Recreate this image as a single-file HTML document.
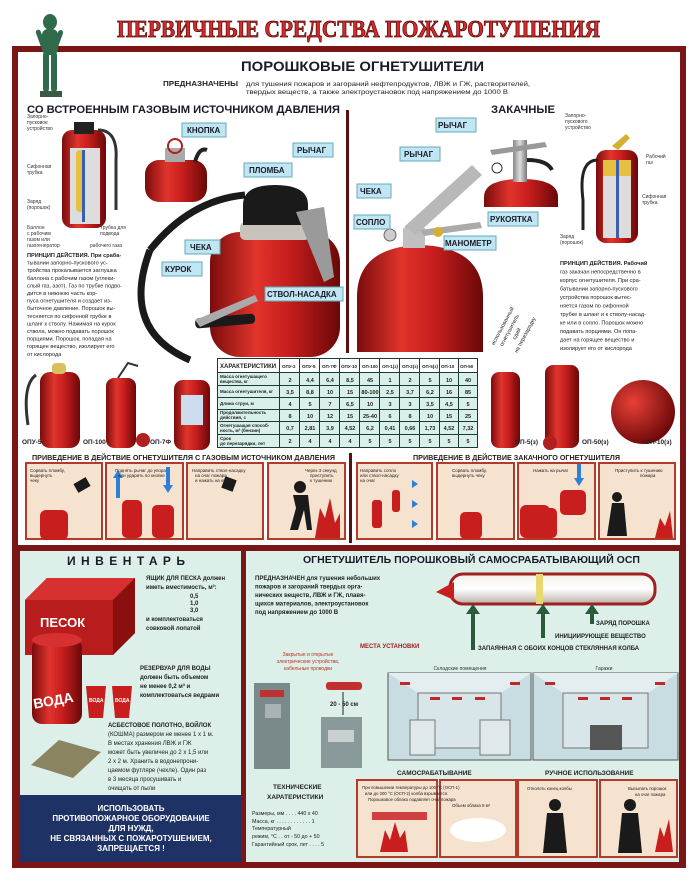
<!DOCTYPE html>
<html><head><meta charset="utf-8"><style>
html,body{margin:0;padding:0;background:#fff}
svg{display:block}
text{font-family:"Liberation Sans","DejaVu Sans",sans-serif}
</style></head><body>
<svg width="700" height="886" viewBox="0 0 700 886" xmlns="http://www.w3.org/2000/svg">
<defs>
<linearGradient id="red" x1="0" x2="1" y1="0" y2="0">
<stop offset="0" stop-color="#7a0c0c"/><stop offset="0.35" stop-color="#e0342c"/><stop offset="0.6" stop-color="#c81e1e"/><stop offset="1" stop-color="#6a0808"/></linearGradient>
<linearGradient id="tube" x1="0" x2="0" y1="0" y2="1">
<stop offset="0" stop-color="#f4f0ea"/><stop offset="0.5" stop-color="#ffffff"/><stop offset="1" stop-color="#b8b0a8"/></linearGradient>
<linearGradient id="gray" x1="0" x2="1"><stop offset="0" stop-color="#888"/><stop offset="0.5" stop-color="#ddd"/><stop offset="1" stop-color="#777"/></linearGradient>
<radialGradient id="sph" cx="0.35" cy="0.35" r="0.7"><stop offset="0" stop-color="#e84038"/><stop offset="1" stop-color="#6a0808"/></radialGradient>
</defs>
<rect width="700" height="886" fill="#fff"/>
<text x="117" y="37" textLength="483" lengthAdjust="spacingAndGlyphs" style="font-family:'Liberation Serif',serif" font-weight="bold" font-size="24" fill="#d42a2a" stroke="#5a0a0a" stroke-width="0.8">ПЕРВИЧНЫЕ СРЕДСТВА ПОЖАРОТУШЕНИЯ</text>
<rect x="12" y="46" width="674" height="822" fill="#7a1616"/>
<rect x="18" y="52" width="662" height="493" fill="#fff"/>
<rect x="20" y="551" width="221" height="311" fill="#dcefe9"/>
<rect x="246" y="551" width="433" height="311" fill="#dcefe9"/>
<g fill="#2f6a4a">
<ellipse cx="50" cy="22" rx="7" ry="8"/>
<rect x="42" y="29" width="16" height="26" rx="6"/>
<rect x="43" y="52" width="6" height="40" rx="3"/>
<rect x="51" y="52" width="6" height="40" rx="3"/>
<rect x="35" y="30" width="5" height="20" rx="2.5" transform="rotate(-20 37 30)"/>
<rect x="59" y="30" width="5" height="18" rx="2.5" transform="rotate(20 61 30)"/>
<rect x="40" y="91" width="22" height="6" fill="#3a5a44"/>
</g>
<text x="241" y="71" textLength="243" lengthAdjust="spacingAndGlyphs" font-weight="bold" font-size="14" fill="#1a1a2a">ПОРОШКОВЫЕ ОГНЕТУШИТЕЛИ</text>
<text x="163" y="86" textLength="75" lengthAdjust="spacingAndGlyphs" font-weight="bold" font-size="7" fill="#222">ПРЕДНАЗНАЧЕНЫ</text>
<text x="246" y="86" textLength="284" lengthAdjust="spacingAndGlyphs" font-size="6.5" fill="#222">для тушения пожаров и загораний нефтепродуктов, ЛВЖ и ГЖ, растворителей,</text>
<text x="246" y="94" textLength="262" lengthAdjust="spacingAndGlyphs" font-size="6.5" fill="#222">твердых веществ, а также электроустановок под напряжением до 1000 В</text>
<text x="27" y="113" textLength="313" lengthAdjust="spacingAndGlyphs" font-weight="bold" font-size="11" fill="#1a1a2a">СО ВСТРОЕННЫМ ГАЗОВЫМ ИСТОЧНИКОМ ДАВЛЕНИЯ</text>
<text x="491" y="113" textLength="64" lengthAdjust="spacingAndGlyphs" font-weight="bold" font-size="11" fill="#1a1a2a">ЗАКАЧНЫЕ</text>
<rect x="346" y="110" width="3" height="243" fill="#5a1010"/>
<rect x="62" y="130" width="44" height="98" rx="10" fill="url(#red)"/>
<rect x="70" y="148" width="30" height="76" fill="#ddd"/>
<rect x="76" y="150" width="8" height="62" rx="4" fill="#e8c040"/>
<rect x="82" y="150" width="3" height="72" fill="#3a5fb0"/>
<rect x="74" y="122" width="20" height="12" fill="#222"/>
<path d="M98 130 q20 0 18 30 v50" stroke="#333" stroke-width="3" fill="none"/>
<g font-size="5" fill="#333">
<text x="27" y="118">Запорно-</text><text x="27" y="124">пусковое</text><text x="27" y="130">устройство</text>
<text x="27" y="168">Сифонная</text><text x="27" y="174">трубка</text>
<text x="27" y="203">Заряд</text><text x="27" y="209">(порошок)</text>
<text x="27" y="229">Баллон</text><text x="27" y="235">с рабочим</text><text x="27" y="241">газом или</text><text x="27" y="247">газогенератор</text>
<text x="100" y="229">Трубка для</text><text x="100" y="235">подвода</text><text x="90" y="247">рабочего газа</text>
</g>
<g font-size="5.6" fill="#222">
<text x="27" y="257" font-weight="bold">ПРИНЦИП ДЕЙСТВИЯ. При сраба-</text>
<text x="27" y="264.6">тывании запорно-пускового ус-</text>
<text x="27" y="272.2">тройства прокалывается заглушка</text>
<text x="27" y="279.8">баллона с рабочим газом (углеки-</text>
<text x="27" y="287.4">слый газ, азот). Газ по трубке подво-</text>
<text x="27" y="295">дится в нижнюю часть кор-</text>
<text x="27" y="302.6">пуса огнетушителя и создает из-</text>
<text x="27" y="310.2">быточное давление. Порошок вы-</text>
<text x="27" y="317.8">тесняется по сифонной трубке в</text>
<text x="27" y="325.4">шланг к стволу. Нажимая на курок</text>
<text x="27" y="333">ствола, можно подавать порошок</text>
<text x="27" y="340.6">порциями. Порошок, попадая на</text>
<text x="27" y="348.2">горящее вещество, изолирует его</text>
<text x="27" y="355.8">от кислорода</text>
</g>
<rect x="145" y="160" width="62" height="42" rx="14" fill="url(#red)"/>
<rect x="165" y="148" width="20" height="14" fill="#aaa"/>
<circle cx="175" cy="146" r="7" fill="none" stroke="#b02020" stroke-width="2"/>
<path d="M195 162 q4 -15 12 -12" stroke="#222" stroke-width="4" fill="none"/>
<path d="M150 250 q-30 80 40 110" stroke="#1a1a1a" stroke-width="7" fill="none"/>
<path d="M150 250 q40 -50 95 -55" stroke="#1a1a1a" stroke-width="7" fill="none"/>
<rect x="210" y="232" width="130" height="125" rx="30" fill="url(#red)"/>
<rect x="240" y="222" width="70" height="18" rx="5" fill="#c8c4bc"/>
<path d="M243 225 v-20 q0 -20 32 -20 q33 0 33 20 v20 z" fill="#1a1a1a"/>
<path d="M296 212 l28 -5 l10 70 l-10 5 z" fill="#9a9a9a"/>
<rect x="195" y="316" width="60" height="10" rx="4" fill="#1a1a1a" transform="rotate(-5 225 320)"/>
<path d="M195 320 l60 -25 l3 6 l-58 26z" fill="#aaa"/>
<path d="M357 352 v-55 q0 -50 63 -52 q63 2 63 52 v55 z" fill="url(#red)"/>
<rect x="403" y="228" width="22" height="20" fill="#c0c0c0"/>
<path d="M404 227 l68 -62 l10 10 l-66 60 z" fill="#b8b8b8"/>
<path d="M420 230 l60 -8 l2 6 l-58 8 z" fill="#aaa"/>
<circle cx="390" cy="235" r="6" fill="#ccc" stroke="#666"/>
<circle cx="438" cy="232" r="5" fill="#d4b030"/>
<path d="M484 207 v-10 q0 -18 37 -18 q37 0 37 18 v10z" fill="url(#red)"/>
<rect x="513" y="140" width="14" height="42" fill="url(#gray)"/>
<path d="M490 150 l55 -8 l2 5 l-55 8z" fill="#999"/>
<path d="M527 160 q20 0 25 10" stroke="#222" stroke-width="4" fill="none"/>
<circle cx="497" cy="168" r="5" fill="#fff" stroke="#333"/>
<rect x="596" y="150" width="42" height="93" rx="10" fill="url(#red)"/>
<rect x="603" y="160" width="28" height="16" fill="#e8c040"/>
<rect x="603" y="176" width="28" height="62" fill="#ddd"/>
<rect x="616" y="160" width="3" height="78" fill="#3a5fb0"/>
<path d="M612 146 l14 -12 l4 4 l-12 12z" fill="#d4b030"/>
<path d="M598 160 q-20 0 -15 40 v30" stroke="#222" stroke-width="3" fill="none"/>
<g font-size="5" fill="#333">
<text x="565" y="117">Запорно-</text><text x="565" y="123">пускового</text><text x="565" y="129">устройство</text>
<text x="646" y="158">Рабочий</text><text x="646" y="164">газ</text>
<text x="642" y="198">Сифонная</text><text x="642" y="204">трубка</text>
<text x="560" y="238">Заряд</text><text x="560" y="244">(порошок)</text>
</g>
<g font-size="5.6" fill="#222">
<text x="560" y="265" font-weight="bold">ПРИНЦИП ДЕЙСТВИЯ. Рабочий</text>
<text x="560" y="273.5">газ закачан непосредственно в</text>
<text x="560" y="282">корпус огнетушителя. При сра-</text>
<text x="560" y="290.5">батывании запорно-пускового</text>
<text x="560" y="299">устройства порошок вытес-</text>
<text x="560" y="307.5">няется газом по сифонной</text>
<text x="560" y="316">трубке в шланг и к стволу-насад-</text>
<text x="560" y="324.5">ке или в сопло. Порошок можно</text>
<text x="560" y="333">подавать порциями. Он попа-</text>
<text x="560" y="341.5">дает на горящее вещество и</text>
<text x="560" y="350">изолирует его от кислорода</text>
</g>
<g font-size="5.5" fill="#222" transform="rotate(-62 510 320)"><text x="480" y="318">использованный</text><text x="483" y="326">огнетушитель</text><text x="495" y="334">сдай</text><text x="484" y="342">на перезарядку</text></g>
<g font-weight="bold" font-size="8" fill="#1a1a2a">
<rect x="182" y="123" width="44" height="14" fill="#bfe6f2" stroke="#6ab"/><text x="187" y="133">КНОПКА</text>
<rect x="293" y="143" width="40" height="14" fill="#bfe6f2" stroke="#6ab"/><text x="297" y="153">РЫЧАГ</text>
<rect x="244" y="163" width="48" height="14" fill="#bfe6f2" stroke="#6ab"/><text x="249" y="173">ПЛОМБА</text>
<rect x="185" y="240" width="35" height="14" fill="#bfe6f2" stroke="#6ab"/><text x="190" y="250">ЧЕКА</text>
<rect x="162" y="262" width="40" height="14" fill="#bfe6f2" stroke="#6ab"/><text x="165" y="272">КУРОК</text>
<rect x="265" y="287" width="78" height="14" fill="#bfe6f2" stroke="#6ab"/><text x="267" y="297">СТВОЛ-НАСАДКА</text>
<rect x="436" y="118" width="40" height="14" fill="#bfe6f2" stroke="#6ab"/><text x="438" y="128">РЫЧАГ</text>
<rect x="400" y="147" width="40" height="14" fill="#bfe6f2" stroke="#6ab"/><text x="404" y="157">РЫЧАГ</text>
<rect x="357" y="184" width="34" height="14" fill="#bfe6f2" stroke="#6ab"/><text x="360" y="194">ЧЕКА</text>
<rect x="354" y="215" width="36" height="14" fill="#bfe6f2" stroke="#6ab"/><text x="356" y="225">СОПЛО</text>
<rect x="488" y="212" width="50" height="14" fill="#bfe6f2" stroke="#6ab"/><text x="490" y="222">РУКОЯТКА</text>
<rect x="444" y="236" width="52" height="14" fill="#bfe6f2" stroke="#6ab"/><text x="445" y="246">МАНОМЕТР</text>
</g>
<path d="M36 375 q-14 10 -8 50" stroke="#333" stroke-width="3" fill="none"/>
<rect x="40" y="372" width="40" height="76" rx="10" fill="url(#red)"/><rect x="52" y="363" width="14" height="11" rx="4" fill="#d8c060"/>
<rect x="106" y="378" width="30" height="70" rx="8" fill="url(#red)"/><circle cx="143" cy="440" r="7" fill="#b02020"/>
<path d="M118 378 l10 -15 l10 3" stroke="#333" stroke-width="2" fill="none"/>
<rect x="174" y="380" width="36" height="70" rx="9" fill="url(#red)"/><rect x="181" y="395" width="22" height="30" fill="#cde"/>
<rect x="491" y="372" width="29" height="76" rx="8" fill="url(#red)"/>
<rect x="545" y="365" width="34" height="83" rx="8" fill="url(#red)"/><circle cx="550" cy="443" r="7" fill="#b02020"/>
<circle cx="643" cy="412" r="32" fill="url(#sph)"/>
<g font-size="6.5" font-weight="bold" fill="#222">
<text x="22" y="444">ОПУ-5</text><text x="83" y="444">ОП-100</text><text x="150" y="444">ОП-7Ф</text>
<text x="515" y="444">ОП-5(з)</text><text x="582" y="444">ОП-50(з)</text><text x="645" y="444">ОП-10(з)</text>
</g>
<g>
<rect x="217" y="358" width="261" height="90" fill="#1d3a3a"/>
<rect x="218" y="359" width="61" height="13" fill="#fff"/>
<g fill="#d9efe9">
<rect x="218" y="373" width="61" height="12"/><rect x="218" y="386" width="61" height="11"/><rect x="218" y="398" width="61" height="11"/><rect x="218" y="410" width="61" height="11"/><rect x="218" y="422" width="61" height="12"/><rect x="218" y="435" width="61" height="12"/>
</g>
<g fill="#fff">
<rect x="280" y="359" width="19" height="13"/><rect x="300" y="359" width="19" height="13"/><rect x="320" y="359" width="19" height="13"/><rect x="340" y="359" width="19" height="13"/><rect x="360" y="359" width="19" height="13"/><rect x="380" y="359" width="19" height="13"/><rect x="400" y="359" width="19" height="13"/><rect x="420" y="359" width="19" height="13"/><rect x="440" y="359" width="18" height="13"/><rect x="459" y="359" width="18" height="13"/>
</g>
<rect x="280" y="373" width="197" height="74" fill="#d9efe9"/>
<g stroke="#1d3a3a" stroke-width="1">
<line x1="299.5" y1="373" x2="299.5" y2="448"/><line x1="319.5" y1="373" x2="319.5" y2="448"/><line x1="339.5" y1="373" x2="339.5" y2="448"/><line x1="359.5" y1="373" x2="359.5" y2="448"/><line x1="379.5" y1="373" x2="379.5" y2="448"/><line x1="399.5" y1="373" x2="399.5" y2="448"/><line x1="419.5" y1="373" x2="419.5" y2="448"/><line x1="439.5" y1="373" x2="439.5" y2="448"/><line x1="458.5" y1="373" x2="458.5" y2="448"/>
<line x1="280" y1="385.5" x2="478" y2="385.5"/><line x1="280" y1="397.5" x2="478" y2="397.5"/><line x1="280" y1="409.5" x2="478" y2="409.5"/><line x1="280" y1="421.5" x2="478" y2="421.5"/><line x1="280" y1="434.5" x2="478" y2="434.5"/>
</g>
<g font-size="4.5" fill="#222" font-weight="bold">
<text x="220" y="368" font-size="6">ХАРАКТЕРИСТИКИ</text>
<text x="282" y="368">ОПУ-2</text><text x="302" y="368">ОПУ-5</text><text x="322" y="368">ОП-7Ф</text><text x="341" y="368">ОПУ-10</text><text x="362" y="368">ОП-100</text><text x="382" y="368">ОП-1(з)</text><text x="402" y="368">ОП-2(з)</text><text x="422" y="368">ОП-5(з)</text><text x="441" y="368">ОП-10</text><text x="460" y="368">ОП-50</text>
<text x="220" y="378">Масса огнетушащего</text><text x="220" y="383">вещества, кг</text>
<text x="220" y="393">Масса огнетушителя, кг</text>
<text x="220" y="405">Длина струи, м</text>
<text x="220" y="414">Продолжительность</text><text x="220" y="419">действия, с</text>
<text x="220" y="427">Огнетушащая способ-</text><text x="220" y="432">ность, м² (бензин)</text>
<text x="220" y="440">Срок</text><text x="220" y="445">до перезарядки, лет</text>
</g>
<g font-size="5.5" fill="#222" font-weight="bold" text-anchor="middle">
<text x="290" y="382">2</text><text x="310" y="382">4,4</text><text x="330" y="382">6,4</text><text x="350" y="382">8,5</text><text x="370" y="382">45</text><text x="390" y="382">1</text><text x="410" y="382">2</text><text x="430" y="382">5</text><text x="449" y="382">10</text><text x="468" y="382">40</text>
<text x="290" y="394">3,5</text><text x="310" y="394">8,8</text><text x="330" y="394">10</text><text x="350" y="394">15</text><text x="370" y="394">80-100</text><text x="390" y="394">2,5</text><text x="410" y="394">3,7</text><text x="430" y="394">6,2</text><text x="449" y="394">16</text><text x="468" y="394">85</text>
<text x="290" y="406">4</text><text x="310" y="406">5</text><text x="330" y="406">7</text><text x="350" y="406">6,5</text><text x="370" y="406">10</text><text x="390" y="406">3</text><text x="410" y="406">3</text><text x="430" y="406">3,5</text><text x="449" y="406">4,5</text><text x="468" y="406">5</text>
<text x="290" y="418">8</text><text x="310" y="418">10</text><text x="330" y="418">12</text><text x="350" y="418">15</text><text x="370" y="418">25-40</text><text x="390" y="418">6</text><text x="410" y="418">8</text><text x="430" y="418">10</text><text x="449" y="418">15</text><text x="468" y="418">25</text>
<text x="290" y="430">0,7</text><text x="310" y="430">2,81</text><text x="330" y="430">3,9</text><text x="350" y="430">4,52</text><text x="370" y="430">6,2</text><text x="390" y="430">0,41</text><text x="410" y="430">0,66</text><text x="430" y="430">1,73</text><text x="449" y="430">4,52</text><text x="468" y="430">7,32</text>
<text x="290" y="443">2</text><text x="310" y="443">4</text><text x="330" y="443">4</text><text x="350" y="443">4</text><text x="370" y="443">5</text><text x="390" y="443">5</text><text x="410" y="443">5</text><text x="430" y="443">5</text><text x="449" y="443">5</text><text x="468" y="443">5</text>
</g>
</g>
<text x="32" y="460" textLength="303" lengthAdjust="spacingAndGlyphs" font-size="7" font-weight="bold" fill="#222">ПРИВЕДЕНИЕ В ДЕЙСТВИЕ ОГНЕТУШИТЕЛЯ С ГАЗОВЫМ ИСТОЧНИКОМ ДАВЛЕНИЯ</text>
<text x="413" y="460" textLength="207" lengthAdjust="spacingAndGlyphs" font-size="7" font-weight="bold" fill="#222">ПРИВЕДЕНИЕ В ДЕЙСТВИЕ ЗАКАЧНОГО ОГНЕТУШИТЕЛЯ</text>
<rect x="349" y="453" width="3" height="90" fill="#5a1010"/>
<g fill="#f5e2cf" stroke="#b43a2a" stroke-width="2">
<rect x="26" y="463" width="76" height="76"/><rect x="106" y="463" width="77" height="76"/><rect x="187" y="463" width="76" height="76"/><rect x="268" y="463" width="77" height="76"/>
<rect x="357" y="463" width="75" height="76"/><rect x="437" y="463" width="77" height="76"/><rect x="518" y="463" width="77" height="76"/><rect x="599" y="463" width="76" height="76"/>
</g>
<g fill="#c81e1e">
<rect x="40" y="510" width="28" height="30" rx="6"/><rect x="122" y="500" width="20" height="38" rx="5"/><rect x="152" y="505" width="22" height="33" rx="5"/>
<rect x="520" y="505" width="30" height="33" rx="6"/><rect x="533" y="508" width="24" height="30" rx="5"/><rect x="560" y="490" width="26" height="25" rx="5"/>
<rect x="460" y="512" width="22" height="27" rx="5"/><rect x="372" y="500" width="10" height="28" rx="3"/><rect x="392" y="490" width="8" height="22" rx="3"/>
<path d="M315 538 l5 -30 l5 10 l5 -20 l5 25 l5 -10 l0 25z"/><path d="M655 538 l5 -20 l5 8 l5 -15 l3 27z"/>
</g>
<g fill="#1a1a1a"><circle cx="300" cy="487" r="6"/><path d="M293 495 h15 l4 35 h-5 l-3 -20 l-6 20 h-8 l6 -22z"/><circle cx="617" cy="497" r="5"/><path d="M612 503 h12 l3 33 h-20z"/><rect x="223" y="478" width="12" height="12" transform="rotate(20 229 484)"/><rect x="75" y="480" width="14" height="10" transform="rotate(-30 82 485)"/></g>
<g fill="#2f7ed8"><path d="M113 478 l5 -8 l5 8 h-3 v20 h-4 v-20z"/><path d="M163 485 l5 8 l5 -8 h-3 v-18 h-4 v18z"/><path d="M574 478 l5 8 l5 -8 h-3 v-14 h-4 v14z"/><path d="M412 480 l6 4 l-6 4z"/><path d="M412 500 l6 4 l-6 4z"/><path d="M412 520 l6 4 l-6 4z"/></g>
<g font-size="4.5" fill="#222">
<text x="30" y="472">Сорвать пломбу,</text><text x="30" y="477">выдернуть</text><text x="30" y="482">чеку</text>
<text x="115" y="472">Поднять рычаг до упора</text><text x="118" y="477">или ударить по кнопке</text>
<text x="192" y="472">Направить ствол-насадку</text><text x="195" y="477">на очаг пожара</text><text x="195" y="482">и нажать на курок</text>
<text x="305" y="472">Через 3 секунд</text><text x="310" y="477">приступить</text><text x="310" y="482">к тушению</text>
<text x="360" y="472">Направить сопло</text><text x="360" y="477">или ствол-насадку</text><text x="360" y="482">на очаг</text>
<text x="452" y="472">Сорвать пломбу,</text><text x="452" y="477">выдернуть чеку</text>
<text x="533" y="472">Нажать на рычаг</text>
<text x="615" y="472">Приступить к тушению</text><text x="640" y="477">пожара</text>
</g>
<text x="67" y="565" textLength="118" lengthAdjust="spacing" font-size="12" font-weight="bold" fill="#1a1a2a">ИНВЕНТАРЬ</text>
<path d="M25 600 l22 -22 h88 v55 l-22 22 h-88z" fill="#b81c1c"/>
<path d="M25 600 l22 -22 h88 l-22 22z" fill="#d63030"/>
<path d="M113 600 l22 -22 v55 l-22 22z" fill="#8a1010"/>
<text x="40" y="627" font-size="13" font-weight="bold" fill="#fff">ПЕСОК</text>
<rect x="32" y="638" width="50" height="86" rx="10" fill="url(#red)"/>
<ellipse cx="57" cy="640" rx="25" ry="7" fill="#d63030"/>
<text x="33" y="705" font-size="14" font-weight="bold" fill="#fff" transform="rotate(-10 55 700)">ВОДА</text>
<path d="M86 686 h20 l-3 32 h-14z" fill="#c81e1e"/><path d="M112 686 h20 l-3 32 h-14z" fill="#c81e1e"/>
<text x="89" y="702" font-size="5" fill="#fff" font-weight="bold">ВОДА</text><text x="115" y="702" font-size="5" fill="#fff" font-weight="bold">ВОДА</text>
<path d="M31 765 l28 -25 l42 12 l-28 26z" fill="#8a8460"/>
<g font-size="6" fill="#222" font-weight="bold">
<text x="146" y="580">ЯЩИК ДЛЯ ПЕСКА должен</text><text x="146" y="589">иметь вместимость, м³:</text>
<text x="190" y="598">0,5</text><text x="190" y="605">1,0</text><text x="190" y="612">3,0</text>
<text x="146" y="621">и комплектоваться</text><text x="146" y="630">совковой лопатой</text>
<text x="140" y="670">РЕЗЕРВУАР ДЛЯ ВОДЫ</text><text x="140" y="679">должен быть объемом</text><text x="140" y="688">не менее 0,2 м³ и</text><text x="140" y="697">комплектоваться ведрами</text>
<text x="108" y="727">АСБЕСТОВОЕ ПОЛОТНО, ВОЙЛОК</text>
<text x="108" y="736" font-weight="normal">(КОШМА) размером не менее 1 х 1 м.</text>
<text x="108" y="745" font-weight="normal">В местах хранения ЛВЖ и ГЖ</text>
<text x="108" y="754" font-weight="normal">может быть увеличен до 2 х 1,5 или</text>
<text x="108" y="763" font-weight="normal">2 х 2 м. Хранить в водонепрони-</text>
<text x="108" y="772" font-weight="normal">цаемом футляре (чехле). Один раз</text>
<text x="108" y="781" font-weight="normal">в 3 месяца просушивать и</text>
<text x="108" y="790" font-weight="normal">очищать от пыли</text>
</g>
<rect x="20" y="795" width="221" height="67" fill="#1f3266"/>
<g font-size="8" font-weight="bold" fill="#fff" text-anchor="middle">
<text x="131" y="811">ИСПОЛЬЗОВАТЬ</text><text x="131" y="821">ПРОТИВОПОЖАРНОЕ ОБОРУДОВАНИЕ</text><text x="131" y="831">ДЛЯ НУЖД,</text><text x="131" y="841">НЕ СВЯЗАННЫХ С ПОЖАРОТУШЕНИЕМ,</text><text x="131" y="851">ЗАПРЕЩАЕТСЯ !</text>
</g>
<text x="303" y="563" textLength="337" lengthAdjust="spacingAndGlyphs" font-size="10" font-weight="bold" fill="#1a1a2a">ОГНЕТУШИТЕЛЬ ПОРОШКОВЫЙ САМОСРАБАТЫВАЮЩИЙ  ОСП</text>
<g font-size="6" font-weight="bold" fill="#222">
<text x="255" y="580">ПРЕДНАЗНАЧЕН для тушения небольших</text><text x="255" y="588.5">пожаров и загораний твердых орга-</text><text x="255" y="597">нических веществ, ЛВЖ и ГЖ, плавя-</text><text x="255" y="605.5">щихся материалов, электроустановок</text><text x="255" y="614">под напряжением до 1000 В</text>
</g>
<rect x="450" y="574" width="205" height="30" rx="13" fill="url(#tube)" stroke="#a02020" stroke-width="3"/>
<path d="M436 592 l18 -10 v18z" fill="#c81e1e"/>
<rect x="536" y="574" width="7" height="30" fill="#e8d870"/>
<g fill="#2a5a3a"><rect x="471" y="612" width="4" height="38"/><path d="M466 614 l7 -10 l7 10z"/><rect x="541" y="612" width="4" height="26"/><path d="M536 614 l7 -10 l7 10z"/><rect x="590" y="612" width="4" height="12"/><path d="M585 614 l7 -10 l7 10z"/></g>
<g font-size="6" font-weight="bold" fill="#222">
<text x="596" y="625">ЗАРЯД ПОРОШКА</text><text x="555" y="638">ИНИЦИИРУЮЩЕЕ ВЕЩЕСТВО</text><text x="478" y="650">ЗАПАЯННАЯ С ОБОИХ КОНЦОВ СТЕКЛЯННАЯ КОЛБА</text>
<text x="360" y="648" fill="#a02020">МЕСТА УСТАНОВКИ</text>
</g>
<g font-size="5" fill="#c03020" text-anchor="middle"><text x="308" y="656">Закрытые и открытые</text><text x="308" y="663">электрические устройства,</text><text x="308" y="670">кабельные проводки</text>
<text x="460" y="670" fill="#333">Складские помещения</text><text x="604" y="670" fill="#333">Гаражи</text></g>
<rect x="254" y="683" width="36" height="86" fill="#7a8a8a"/><rect x="260" y="690" width="24" height="7" fill="#c03030"/><rect x="265" y="704" width="16" height="14" fill="#a8b4b4"/>
<rect x="326" y="682" width="36" height="8" rx="3" fill="#c03030"/>
<line x1="343" y1="692" x2="343" y2="715" stroke="#222"/>
<text x="330" y="706" font-size="6" font-weight="bold" fill="#222">20 - 50 см</text>
<rect x="321" y="717" width="41" height="51" fill="#8a9a9a"/><rect x="328" y="730" width="26" height="12" fill="#c8d0d0"/>
<g>
<rect x="388" y="673" width="143" height="87" fill="#c8dde2" stroke="#555"/>
<path d="M388 673 l30 20 h83 l30 -20z" fill="#e4eef0"/><rect x="418" y="693" width="83" height="55" fill="#d8e6ea" stroke="#777"/>
<rect x="410" y="720" width="25" height="35" fill="#dfe8ea" stroke="#777"/><rect x="480" y="720" width="30" height="35" fill="#dfe8ea" stroke="#777"/>
<rect x="533" y="673" width="145" height="87" fill="#c8dde2" stroke="#555"/>
<path d="M533 673 l30 20 h85 l30 -20z" fill="#e4eef0"/><rect x="563" y="693" width="85" height="55" fill="#d8e6ea" stroke="#777"/>
<rect x="590" y="725" width="32" height="25" fill="#555"/>
<g fill="#c02828"><rect x="400" y="682" width="10" height="3"/><rect x="430" y="697" width="10" height="3"/><rect x="452" y="697" width="10" height="3"/><rect x="475" y="697" width="10" height="3"/><rect x="510" y="682" width="10" height="3"/><rect x="545" y="682" width="10" height="3"/><rect x="578" y="697" width="10" height="3"/><rect x="600" y="697" width="10" height="3"/><rect x="622" y="697" width="10" height="3"/><rect x="655" y="682" width="10" height="3"/></g>
</g>
<g font-size="6.5" font-weight="bold" fill="#222">
<text x="397" y="775">САМОСРАБАТЫВАНИЕ</text><text x="545" y="775">РУЧНОЕ ИСПОЛЬЗОВАНИЕ</text>
<text x="273" y="789">ТЕХНИЧЕСКИЕ</text><text x="267" y="799">ХАРАТЕРИСТИКИ</text>
</g>
<g font-size="5.3" fill="#222">
<text x="252" y="815">Размеры, мм . . . . 440 х 40</text><text x="252" y="823">Масса, кг . . . . . . . . . . . . 1</text><text x="252" y="830">Температурный</text><text x="252" y="838">режим, °С . . от - 50 до + 50</text><text x="252" y="846">Гарантийный срок, лет . . . . 5</text>
</g>
<g fill="#f5e2cf" stroke="#b43a2a" stroke-width="2">
<rect x="357" y="780" width="80" height="77"/><rect x="440" y="780" width="76" height="77"/><rect x="518" y="780" width="79" height="77"/><rect x="600" y="780" width="77" height="77"/>
</g>
<g fill="#c81e1e"><path d="M380 852 l5 -22 l5 10 l5 -18 l5 16 l5 -8 l3 22z"/><path d="M655 852 l5 -25 l4 10 l5 -18 l4 33z"/><rect x="372" y="812" width="55" height="8" fill="#d04040"/></g>
<ellipse cx="478" cy="830" rx="28" ry="12" fill="#fff"/>
<g fill="#1a1a1a"><circle cx="555" cy="805" r="6"/><path d="M547 813 h16 l4 40 h-24z"/><circle cx="630" cy="805" r="6"/><path d="M622 813 h16 l4 40 h-24z"/></g>
<g font-size="4.3" fill="#222">
<text x="362" y="789">При повышении температуры до 100 °С (ОСП-1)</text><text x="365" y="795">или до 200 °С (ОСП-2) колба взрывается.</text><text x="368" y="801">Порошковое облако подавляет очаг пожара</text>
<text x="452" y="807">Объем облака 9 м³</text>
<text x="527" y="790">Отколоть конец колбы</text>
<text x="628" y="790">Высыпать порошок</text><text x="635" y="796">на очаг пожара</text>
</g>
</svg>
</body></html>
